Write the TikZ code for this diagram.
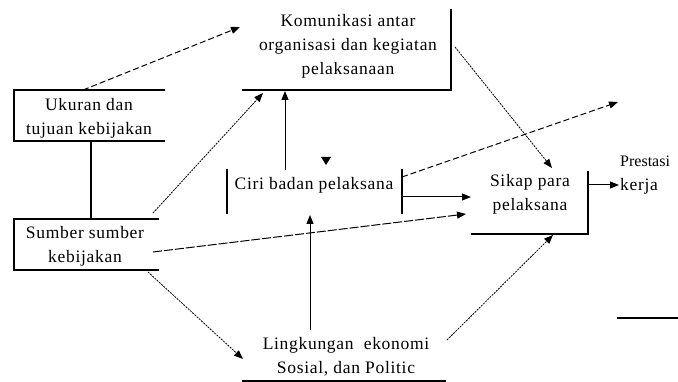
\documentclass[tikz,border=0pt]{standalone}
\usepackage{fontspec}
\setmainfont{Liberation Serif}[LetterSpace=4]
\usetikzlibrary{arrows.meta}
\begin{document}
\begin{tikzpicture}[x=1pt,y=-1pt,
  lbl/.style={font=\fontsize{17.5}{24}\selectfont, align=center, inner sep=0pt},
  boxedge/.style={line width=1.4pt, line cap=rect},
  conn/.style={line width=1pt, -{Triangle[length=9pt,width=7pt]}},
  dconn/.style={conn, dash pattern=on 6pt off 3pt},
  tconn/.style={conn, line width=0.8pt, dash pattern=on 2pt off 1pt}]
\useasboundingbox[fill=white] (0,0) rectangle (678,382);

% text nodes
\node[lbl] (kom) at (348,46) {Komunikasi antar\\organisasi dan kegiatan\\pelaksanaan};
\node[lbl] (uk) at (89,118) {Ukuran dan\\tujuan kebijakan};
\node[lbl] (sum) at (85,246) {Sumber sumber\\kebijakan};
\node[lbl] (ciri) at (314,185) {Ciri badan pelaksana};
\node[lbl] (sik) at (530,194) {Sikap para\\pelaksana};
\node[lbl, align=left, anchor=west] (pres) at (620,175) {{\fontsize{16}{24}\selectfont\addfontfeature{LetterSpace=0}Prestasi}\\kerja};
\node[lbl] (ling) at (346,357) {Lingkungan\ \ ekonomi\\Sosial, dan Politic};

% box edges
\draw[boxedge] (243,90) -- (451,90) -- (451,10);
\draw[boxedge] (164,90) -- (14,90) -- (14,141) -- (164,141);
\draw[boxedge] (158,219) -- (14,219) -- (14,270) -- (158,270);
\draw[boxedge] (227,170) -- (227,213);
\draw[boxedge] (402,170) -- (402,213);
\draw[boxedge] (472,234) -- (588,234) -- (588,172);
\draw[boxedge] (243,381) -- (445,381);
\draw[boxedge] (618,318) -- (678,318);
\draw[boxedge, line width=1.1pt] (91,141) -- (91,219);

% stray arrowhead
\fill (321,157) -- (331,157) -- (326,165) -- cycle;

% connector endpoints
\coordinate (a1) at (83,90);   \coordinate (b1) at (240,27);
\coordinate (a2) at (153,213); \coordinate (b2) at (263,93);
\coordinate (a3) at (285,170); \coordinate (b3) at (285,91);
\coordinate (a4) at (455,47);  \coordinate (b4) at (552,168);
\coordinate (a5) at (402,177); \coordinate (b5) at (618,102);
\coordinate (a6) at (402,197); \coordinate (b6) at (471,197);
\coordinate (a7) at (153,252); \coordinate (b7) at (466,214);
\coordinate (a8) at (310,330); \coordinate (b8) at (310,215);
\coordinate (a9) at (148,272); \coordinate (b9) at (243,359);
\coordinate (a10) at (447,340); \coordinate (b10) at (553,235);
\coordinate (a11) at (588,185); \coordinate (b11) at (619,185);

\draw[dconn] (a1) -- (b1);
\draw[tconn] (a2) -- (b2);
\draw[conn] (a3) -- (b3);
\draw[tconn] (a4) -- (b4);
\draw[dconn] (a5) -- (b5);
\draw[conn] (a6) -- (b6);
\draw[dconn, dash pattern=on 9pt off 2pt] (a7) -- (b7);
\draw[conn] (a8) -- (b8);
\draw[tconn] (a9) -- (b9);
\draw[tconn] (a10) -- (b10);
\draw[conn] (a11) -- (b11);
\end{tikzpicture}
\end{document}
